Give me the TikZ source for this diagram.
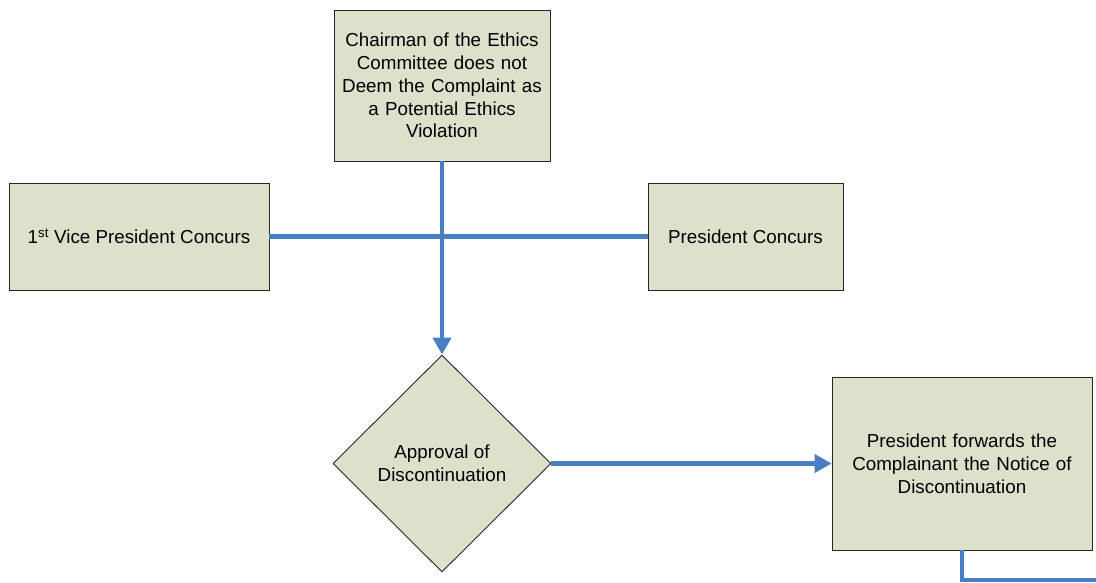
\documentclass[tikz,border=0pt]{standalone}
\usepackage{fontspec}
\setmainfont{Liberation Sans}
\usetikzlibrary{shapes.geometric,arrows.meta}
\definecolor{boxFill}{RGB}{221,224,203}
\definecolor{flowBlue}{RGB}{74,126,196}

\begin{document}
\begin{tikzpicture}[x=1pt, y=-1pt,
	stepbox/.style={draw=black!85, line width=0.9pt, fill=boxFill, align=center, inner sep=2pt,
		font=\fontsize{18.8}{22.8}\selectfont},
	decision/.style={stepbox, diamond, inner sep=0pt},
	flow/.style={line width=4.5pt, flowBlue},
	flowarrow/.style={flow, -{Triangle[width=18pt,length=17pt]}}]
	\useasboundingbox (0,0) rectangle (1096,582);
	% boxes
	\node[stepbox, minimum width=216pt, minimum height=151pt, text width=212pt] (chair) at (442,85.5)
		{Chairman of the Ethics\\Committee does not\\Deem the Complaint as\\a Potential Ethics\\Violation};
	\node[stepbox, minimum width=260pt, minimum height=107pt] (vice) at (139,236.5)
		{1\textsuperscript{st} Vice President Concurs};
	\node[stepbox, minimum width=195pt, minimum height=107pt] (pres) at (745.5,236.5)
		{President Concurs};
	\node[decision, minimum width=218pt, minimum height=217pt] (approval) at (442,463.5)
		{Approval of\\Discontinuation};
	\node[stepbox, minimum width=260pt, minimum height=173pt, text width=254pt] (forward) at (962,463.5)
		{President forwards the\\Complainant the Notice of\\Discontinuation};
	\coordinate (out) at (1100,580);
	% connectors
	\draw[flow] (vice.east) -- (pres.west);
	\draw[flowarrow] (chair.south) -- (approval.north);
	\draw[flowarrow] (approval.east) -- (forward.west);
	\draw[flow] (forward.south) |- (out);
\end{tikzpicture}
\end{document}
